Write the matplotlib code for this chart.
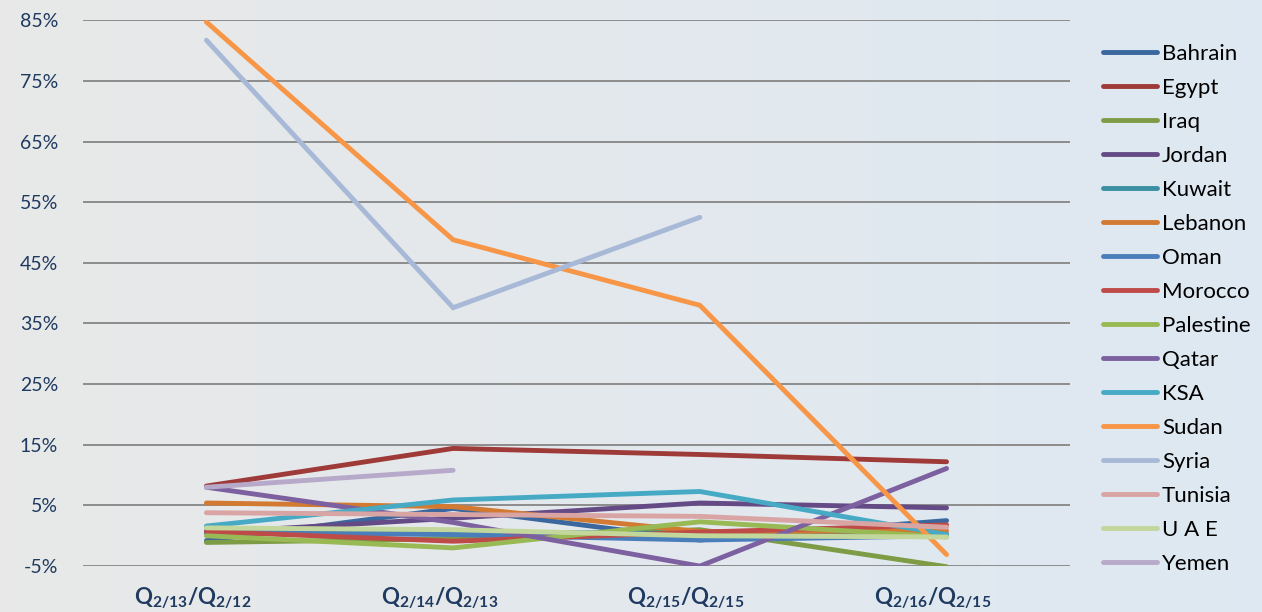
import numpy as np
import matplotlib

matplotlib.use("Agg")
import matplotlib.pyplot as plt
from matplotlib.transforms import ScaledTranslation

NAN = np.nan

CATEGORIES = [r"$\mathbf{Q_{2/13}/Q_{2/12}}$", r"$\mathbf{Q_{2/14}/Q_{2/13}}$",
              r"$\mathbf{Q_{2/15}/Q_{2/15}}$", r"$\mathbf{Q_{2/16}/Q_{2/15}}$"]
COUNTRIES = ["Bahrain", "Egypt", "Iraq", "Jordan", "Kuwait", "Lebanon", "Oman", "Morocco",
             "Palestine", "Qatar", "KSA", "Sudan", "Syria", "Tunisia", "U A E", "Yemen"]

BAHRAIN = [-0.8, 4.5, -0.7, 2.5]
EGYPT = [8.2, 14.4, 13.4, 12.2]
IRAQ = [-1.1, -0.5, 1.0, -5.1]
JORDAN = [0.5, 2.9, 5.4, 4.6]
KUWAIT = [0.8, 0.6, 0.4, 0.3]
LEBANON = [5.4, 4.8, 0.7, 0.8]
OMAN = [0.5, 0.2, -0.7, 0.0]
MOROCCO = [0.7, -0.9, 0.6, 1.8]
PALESTINE = [0.0, -2.0, 2.3, -0.2]
QATAR = [8.0, 2.2, -5.0, 11.1]
KSA = [1.6, 5.9, 7.3, 0.2]
SUDAN = [84.7, 48.8, 38.0, -3.1]
SYRIA = [81.7, 37.6, 52.5, NAN]
TUNISIA = [3.8, 3.5, 3.2, 1.4]
UAE = [1.3, 1.0, 0.0, -0.2]
YEMEN = [8.0, 10.8, NAN, NAN]

SERIES = [BAHRAIN, EGYPT, IRAQ, JORDAN, KUWAIT, LEBANON, OMAN, MOROCCO,
          PALESTINE, QATAR, KSA, SUDAN, SYRIA, TUNISIA, UAE, YEMEN]
COLORS = ["#3A679E", "#9E3A38", "#7E9C45", "#654B86", "#3A8FA2", "#D27A31",
          "#4A7EBB", "#BE4B48", "#98B954", "#7D60A0", "#46AAC5", "#F79646",
          "#A7B9D7", "#D9A5A4", "#C3D69B", "#B7A9C9"]

Y_TICKS = [-5, 5, 15, 25, 35, 45, 55, 65, 75, 85]
NAVY = "#1F3A60"

plt.rcParams["font.family"] = ["Lato", "DejaVu Sans"]
plt.rcParams["mathtext.fontset"] = "custom"
plt.rcParams["mathtext.bf"] = "Lato:bold"
plt.rcParams["mathtext.rm"] = "Lato"

fig = plt.figure(figsize=(12.62, 6.12), dpi=100)

# soft background wash (grey on the left, pale blue on the right)
bg = fig.add_axes([0, 0, 1, 1], zorder=-10)
grad = np.linspace(0, 1, 256)
left_c = np.array([0.91, 0.91, 0.91])
right_c = np.array([0.87, 0.91, 0.95])
img = left_c[None, None, :] * (1 - grad[None, :, None]) + right_c[None, None, :] * grad[None, :, None]
bg.imshow(img, aspect="auto", extent=[0, 1, 0, 1])
bg.axis("off")

ax = fig.add_axes([0.0658, 0.075, 0.782, 0.892])
ax.patch.set_alpha(0)

x = np.arange(len(CATEGORIES))
handles = []
for name, vals, color in zip(COUNTRIES, SERIES, COLORS):
    (ln,) = ax.plot(x, vals, color=color, linewidth=3.5, solid_capstyle="round",
                    solid_joinstyle="miter", label=name, zorder=3)
    handles.append(ln)

ax.set_xlim(-0.5, 3.5)
ax.set_ylim(-5, 85)
ax.set_yticks(Y_TICKS)
ax.set_yticklabels([f"{t}%" for t in Y_TICKS], fontsize=14, color=NAVY)
ax.set_xticks(x)
ax.set_xticklabels(CATEGORIES, fontsize=16, color=NAVY)
ax.tick_params(axis="x", length=0, pad=14)
ax.tick_params(axis="y", length=0, pad=18)
# category labels sit a little left of the points, as in the source
shift = ScaledTranslation(-10 / 72, 0, fig.dpi_scale_trans)
for lab in ax.get_xticklabels():
    lab.set_transform(lab.get_transform() + shift)
for spine in ax.spines.values():
    spine.set_visible(False)
ax.grid(axis="y", color="#8C8C8C", linewidth=1.4, zorder=0)
ax.set_axisbelow(True)

fig.legend(handles=handles, loc="upper left", bbox_to_anchor=(0.874, 0.928),
           frameon=False, fontsize=16, handlelength=2.45, handletextpad=0.2,
           labelspacing=0.63, borderaxespad=0, borderpad=0, handleheight=0.7)

fig.savefig("out.png", dpi=100)
